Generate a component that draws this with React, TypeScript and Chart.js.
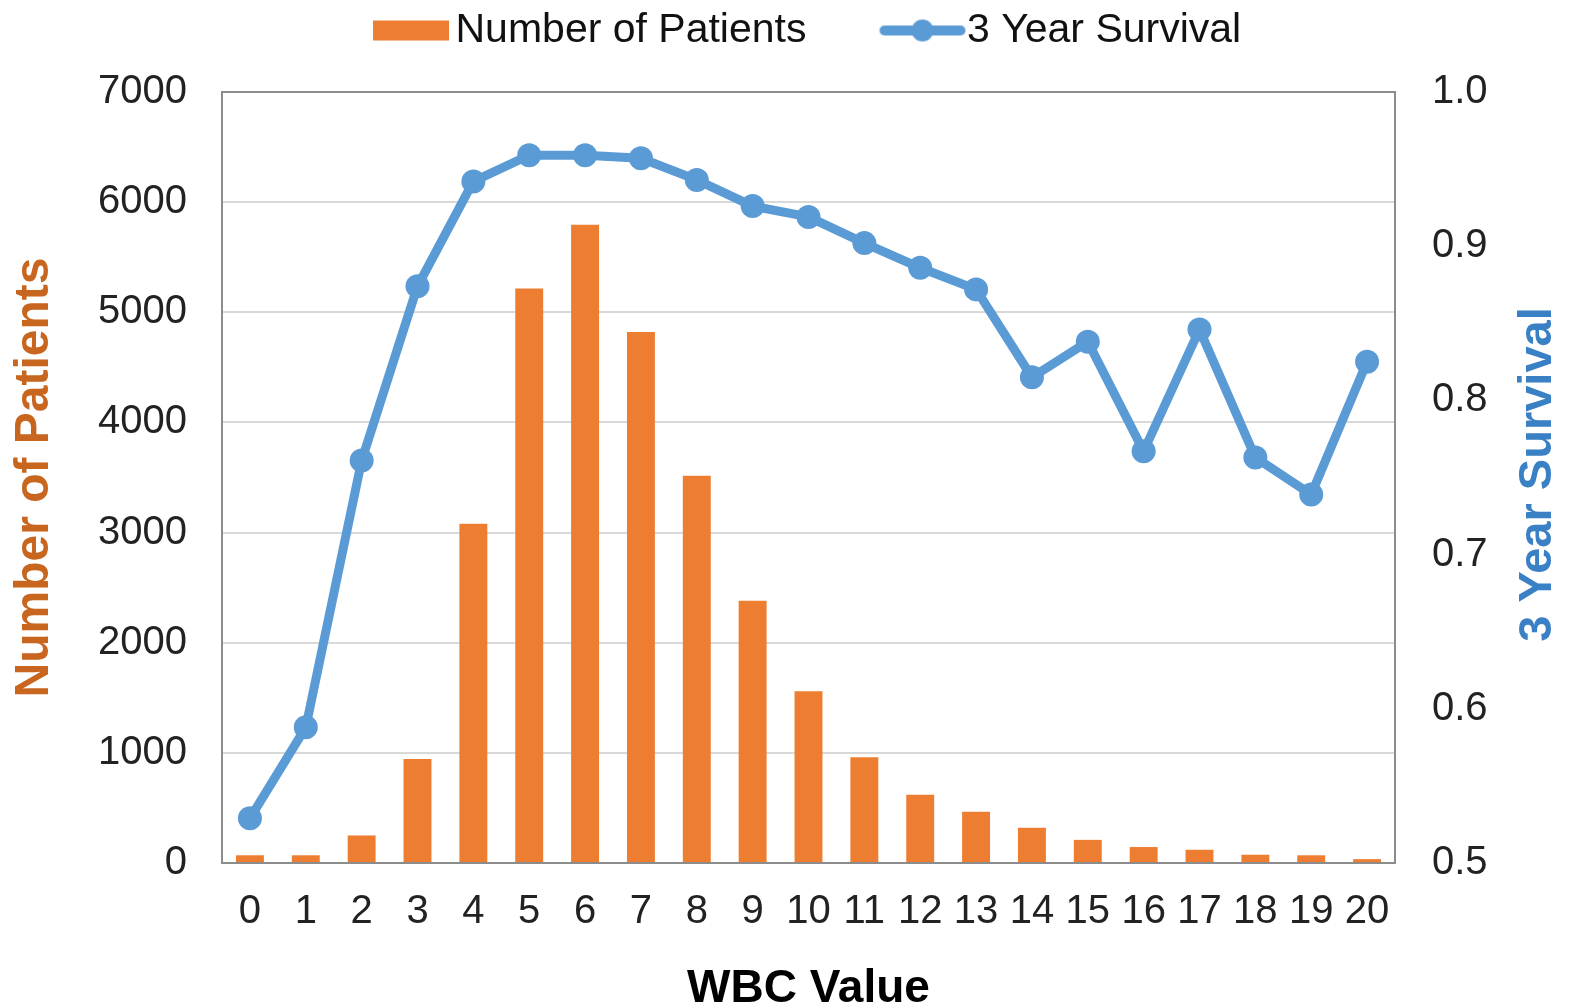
import React, { useEffect, useRef } from 'react';
import { Chart, registerables } from 'chart.js';

Chart.register(...registerables);

const wbcValues = ['0', '1', '2', '3', '4', '5', '6', '7', '8', '9', '10', '11', '12', '13', '14', '15', '16', '17', '18', '19', '20'];
const patientCounts = [70, 70, 250, 945, 3080, 5215, 5795, 4820, 3515, 2380, 1560, 960, 620, 465, 320, 210, 145, 120, 75, 70, 35];
const survival3yr = [0.529, 0.588, 0.761, 0.874, 0.942, 0.959, 0.959, 0.957, 0.943, 0.926, 0.919, 0.902, 0.886, 0.872, 0.815, 0.838, 0.767, 0.846, 0.763, 0.739, 0.825];
const seriesNames = ['Number of Patients', '3 Year Survival'];
const axisTitles = { x: 'WBC Value', left: 'Number of Patients', right: '3 Year Survival' };

const FONT = "'Liberation Sans', Arial, sans-serif";
const ORANGE = '#ED7D31';
const BLUE = '#5B9BD5';
const ORANGE_TEXT = '#C8651E';
const BLUE_TEXT = '#3A80C4';

function makeIcons() {
  const bar = document.createElement('canvas');
  bar.width = 180; bar.height = 40;
  const b = bar.getContext('2d')!;
  b.fillStyle = ORANGE;
  b.fillRect(93, 10, 76, 20);
  const line = document.createElement('canvas');
  line.width = 180; line.height = 40;
  const l = line.getContext('2d')!;
  l.strokeStyle = BLUE; l.lineWidth = 10; l.lineCap = 'round';
  l.beginPath(); l.moveTo(93, 20); l.lineTo(169, 20); l.stroke();
  l.fillStyle = BLUE;
  l.beginPath(); l.arc(131, 20, 11, 0, Math.PI * 2); l.fill();
  return [bar, line];
}

export default function App() {
  const ref = useRef<HTMLCanvasElement>(null);
  useEffect(() => {
    if (!ref.current) return;
    const icons = makeIcons();
    const chart = new Chart(ref.current, {
      type: 'bar',
      data: {
        labels: wbcValues,
        datasets: [
          {
            type: 'bar',
            label: seriesNames[0],
            data: patientCounts,
            backgroundColor: ORANGE,
            yAxisID: 'y',
            barPercentage: 0.5,
            categoryPercentage: 1,
            order: 1,
          },
          {
            type: 'line',
            label: seriesNames[1],
            data: survival3yr,
            borderColor: BLUE,
            backgroundColor: BLUE,
            borderWidth: 9,
            pointRadius: 12,
            pointBackgroundColor: BLUE,
            pointBorderWidth: 0,
            tension: 0,
            yAxisID: 'y1',
            order: 0,
          } as any,
        ],
      },
      options: {
        responsive: false,
        animation: false,
        layout: { padding: 0 },
        plugins: {
          tooltip: { enabled: false },
          legend: {
            position: 'top',
            labels: {
              usePointStyle: true,
              pointStyleWidth: 130,
              padding: 10,
              color: '#111',
              font: { family: FONT, size: 41 },
              sort: (a: any, b: any) => a.datasetIndex - b.datasetIndex,
              generateLabels: (c: any) => {
                const items = (Chart.defaults.plugins.legend.labels as any).generateLabels(c);
                items.forEach((it: any) => {
                  it.pointStyle = icons[it.datasetIndex];
                  it.fontColor = '#111';
                  if (it.datasetIndex === 1) it.text = it.text + '  ';
                });
                return items;
              },
            },
          },
        },
        scales: {
          x: {
            grid: { display: false, drawTicks: false },
            border: { display: false },
            ticks: { color: '#222', font: { family: FONT, size: 40 }, padding: 25, maxRotation: 0, autoSkip: false },
            title: { display: true, text: axisTitles.x, color: '#000', font: { family: FONT, size: 46, weight: 'bold', lineHeight: 0.8 }, padding: 0 },
            afterFit: (s: any) => { s.height = 145; },
          },
          y: {
            position: 'left',
            min: 0,
            max: 7000,
            ticks: { stepSize: 1000, color: '#222', font: { family: FONT, size: 40 }, padding: 35, callback: (v: any) => String(v) },
            grid: { color: '#D9D9D9', lineWidth: 2, drawTicks: false },
            border: { display: false },
            title: { display: true, text: axisTitles.left, color: ORANGE_TEXT, font: { family: FONT, size: 48, weight: 'bold' }, padding: { top: 6, bottom: 0 } },
            afterFit: (s: any) => { s.width = 222; },
          },
          y1: {
            position: 'right',
            min: 0.5,
            max: 1.0,
            ticks: { stepSize: 0.1, color: '#222', font: { family: FONT, size: 40 }, padding: 37, callback: (v: any) => Number(v).toFixed(1) },
            grid: { display: false, drawTicks: false },
            border: { display: false },
            afterFit: (s: any) => { s.width = 174; },
          },
        },
      },
      plugins: [
        {
          id: 'legendHeight',
          afterInit(c: any) {
            const lg = c.legend;
            if (!lg) return;
            const orig = lg.fit.bind(lg);
            lg.fit = () => { orig(); lg.height = 92; };
          },
        },
        {
          id: 'frame',
          beforeDatasetsDraw(c: any) {
            const { ctx, chartArea: a } = c;
            ctx.save();
            ctx.strokeStyle = '#8C8C8C';
            ctx.lineWidth = 2;
            ctx.strokeRect(a.left, a.top, a.right - a.left, a.bottom - a.top);
            ctx.restore();
          },
        },
        {
          id: 'rightTitle',
          afterDraw(c: any) {
            const { ctx } = c;
            const s = c.scales.y1;
            ctx.save();
            ctx.translate(1538, (s.top + s.bottom) / 2 - 3);
            ctx.rotate(-Math.PI / 2);
            ctx.font = `bold 47px ${FONT}`;
            ctx.fillStyle = BLUE_TEXT;
            ctx.textAlign = 'center';
            ctx.textBaseline = 'middle';
            ctx.fillText(axisTitles.right, 0, 0);
            ctx.restore();
          },
        },
      ],
    });
    return () => chart.destroy();
  }, []);
  return (
    <div style={{ position: 'absolute', left: 0, top: 0, width: 1569, height: 1008, background: '#fff' }}>
      <canvas ref={ref} width={1569} height={1008} />
    </div>
  );
}
